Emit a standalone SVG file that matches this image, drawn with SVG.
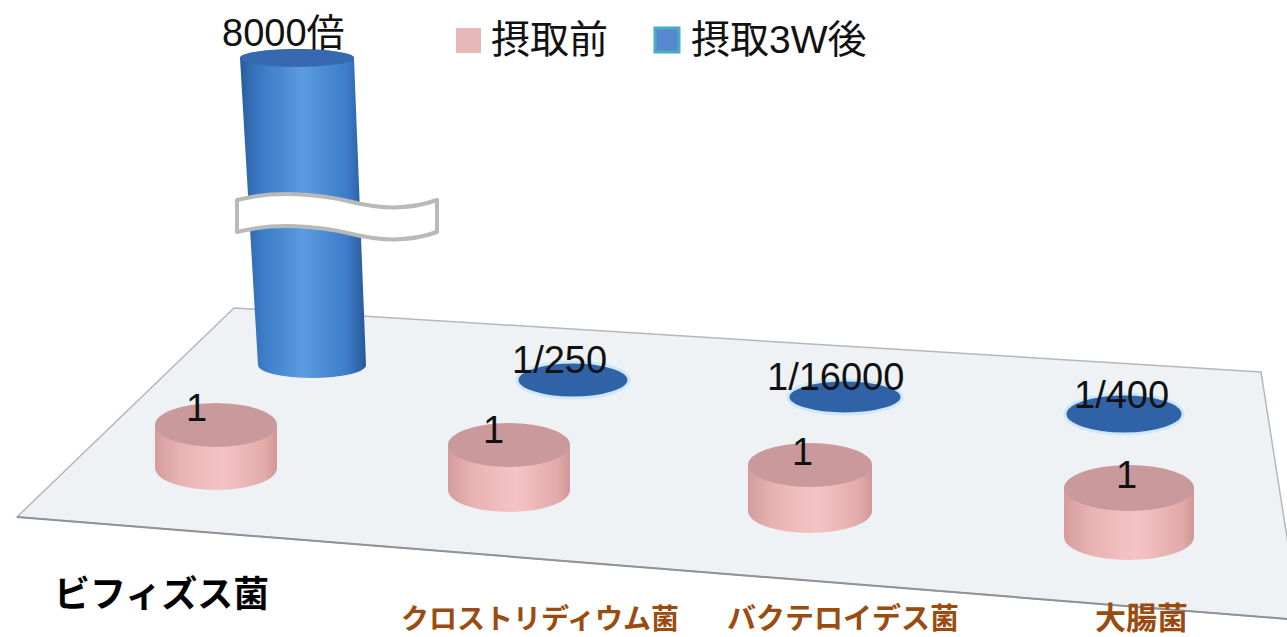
<svg xmlns="http://www.w3.org/2000/svg" width="1287" height="637" viewBox="0 0 1287 637">
<defs>
<linearGradient id="blueSide" x1="0" y1="0" x2="1" y2="0">
<stop offset="0" stop-color="#2a5c9f"/>
<stop offset="0.15" stop-color="#3a78c4"/>
<stop offset="0.5" stop-color="#5b9be0"/>
<stop offset="0.85" stop-color="#3d7cc8"/>
<stop offset="1" stop-color="#275898"/>
</linearGradient>
<linearGradient id="pinkSide" x1="0" y1="0" x2="1" y2="0">
<stop offset="0" stop-color="#d59c9c"/>
<stop offset="0.2" stop-color="#e8b2b2"/>
<stop offset="0.55" stop-color="#f6c3c4"/>
<stop offset="0.9" stop-color="#e3aaaa"/>
<stop offset="1" stop-color="#cf9797"/>
</linearGradient>
<style>
.floor{fill:#eef2f4;stroke:#b4b8bc;stroke-width:1.5}
.edge{fill:none;stroke:#8e9398;stroke-width:2}
.pside{fill:url(#pinkSide)}
.ptop{fill:#c9999b}
.disc{fill:#2f62a6;stroke:#cfe8f8;stroke-width:3}
.val{font-family:"Liberation Sans","Noto Sans CJK JP",sans-serif;font-size:38px;fill:#111}
.leg{font-family:"Liberation Sans","Noto Sans CJK JP",sans-serif;font-size:39px;fill:#111}
.cat{font-family:"Noto Sans CJK JP",sans-serif;font-weight:700;fill:#9a4c10}
</style>
</defs>
<rect width="1287" height="637" fill="#ffffff"/>

<g id="floor">
<polygon class="floor" points="234,308 1261,372 1300,620 17,517"/>
<line class="edge" x1="17" y1="517" x2="1300" y2="620"/>
</g>

<g id="bifidus-after">
<path d="M240,58 L258,365 A54,13 0 0 0 366,365 L354,58 A57,9 0 0 0 240,58 Z" fill="url(#blueSide)"/>
<ellipse cx="297" cy="58" rx="57" ry="9" fill="#3769b0"/>
</g>

<g id="break">
<path d="M237,200 C275,190 320,194 352,202 C388,211 415,208 437,200 L437,232 C415,240 388,243 352,234 C320,226 275,222 237,232 Z" fill="#ffffff" stroke="#b9b9b9" stroke-width="4" stroke-linejoin="round"/>
</g>

<g id="clostridium-after"><ellipse class="disc" cx="573" cy="380" rx="56" ry="18"/></g>
<g id="bacteroides-after"><ellipse class="disc" cx="845" cy="397" rx="57" ry="17"/></g>
<g id="ecoli-after"><ellipse class="disc" cx="1124" cy="414" rx="59" ry="20"/></g>

<g id="bifidus-before">
<path class="pside" d="M155,425 L155,468 A61,22 0 0 0 277,468 L277,425 Z"/>
<ellipse class="ptop" cx="216" cy="425" rx="61" ry="22"/>
</g>
<g id="clostridium-before">
<path class="pside" d="M448,445 L448,490 A61,22 0 0 0 570,490 L570,445 Z"/>
<ellipse class="ptop" cx="509" cy="445" rx="61" ry="22"/>
</g>
<g id="bacteroides-before">
<path class="pside" d="M748,465 L748,511 A62,22 0 0 0 872,511 L872,465 Z"/>
<ellipse class="ptop" cx="810" cy="465" rx="62" ry="22"/>
</g>
<g id="ecoli-before">
<path class="pside" d="M1064,488 L1064,537 A65,23 0 0 0 1194,537 L1194,488 Z"/>
<ellipse class="ptop" cx="1129" cy="488" rx="65" ry="23"/>
</g>

<g id="values">
<text class="val" x="222" y="46">8000倍</text>
<text class="val" x="186" y="421">1</text>
<text class="val" x="483" y="443">1</text>
<text class="val" x="792" y="465">1</text>
<text class="val" x="1116" y="488">1</text>
<text class="val" x="512" y="373">1/250</text>
<text class="val" x="767" y="390">1/16000</text>
<text class="val" x="1074" y="408">1/400</text>
</g>

<g id="legend">
<rect x="456" y="28" width="25" height="25" fill="#e6b9b8"/>
<text class="leg" x="491" y="53">摂取前</text>
<rect x="655" y="28" width="24" height="24" fill="#5588cc" stroke="#4bacc6" stroke-width="3"/>
<text class="leg" x="691" y="53">摂取3W後</text>
</g>

<g id="categories">
<text x="54" y="607" font-family="'Noto Sans CJK JP',sans-serif" font-weight="700" font-size="36" fill="#000">ビフィズス菌</text>
<text class="cat" x="401" y="629" font-size="28">クロストリディウム菌</text>
<text class="cat" x="727" y="629" font-size="29">バクテロイデス菌</text>
<text class="cat" x="1095" y="629" font-size="31">大腸菌</text>
</g>
</svg>
